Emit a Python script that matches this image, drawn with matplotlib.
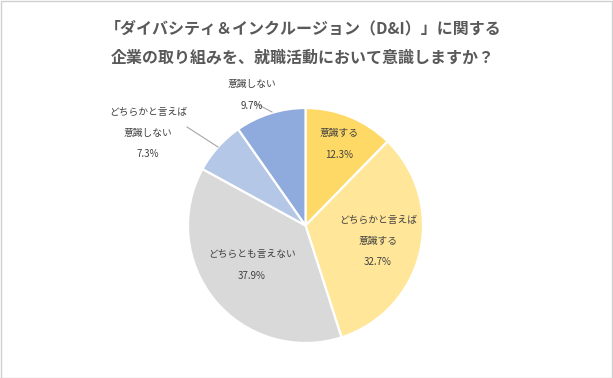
import matplotlib
matplotlib.use('Agg')
import matplotlib.pyplot as plt
from matplotlib.patches import Rectangle

plt.rcParams['font.family'] = ['Noto Sans CJK JP', 'DejaVu Sans']

# データ
labels = ['意識する', 'どちらかと言えば\n意識する', 'どちらとも言えない',
          'どちらかと言えば\n意識しない', '意識しない']
values = [12.3, 32.7, 37.9, 7.3, 9.7]
colors = ['#FFD966', '#FFE699', '#D9D9D9', '#B4C7E7', '#8FAADC']
title = '「ダイバシティ＆インクルージョン（D&I）」に関する\n企業の取り組みを、就職活動において意識しますか？'

W, H = 613, 378
fig = plt.figure(figsize=(W / 100, H / 100), dpi=100)

# 外枠
fig.patches.append(Rectangle((0.5 / W, 0.5 / H), 1 - 1.5 / W, 1 - 1.5 / H,
                             transform=fig.transFigure, fill=False,
                             edgecolor='#D0D0D0', linewidth=1))

fig.text(303 / W, 1 - 43 / H, title, ha='center', va='center', fontsize=11.5,
         fontweight='bold', color='#595959', linespacing=1.95)

# 円グラフ (中心 305.5, 225.5 / 半径 117.5 px)
cx, cy, r = 305.5, 225.5, 117.5
ax = fig.add_axes([(cx - r) / W, (H - cy - r) / H, 2 * r / W, 2 * r / H])
ax.pie(values, colors=colors, startangle=90, counterclock=False, radius=1,
       wedgeprops=dict(edgecolor='white', linewidth=1.6))
ax.set_xlim(-1, 1)
ax.set_ylim(-1, 1)
ax.set_aspect('equal')
ax.axis('off')


def px(x, y):
    return (x - cx) / r, (cy - y) / r


# ラベル位置（ピクセル）
label_pos = [(339, 144), (378, 241), (252, 265), (148, 133), (252, 95)]
for lab, val, (lx, ly) in zip(labels, values, label_pos):
    ax.text(*px(lx, ly), f'{lab}\n{val:.1f}%', ha='center', va='center',
            fontsize=7, color='#404040', linespacing=2.4, clip_on=False)

# 引き出し線
leaders = [((255, 103), (272, 112)), ((187, 127), (218, 147))]
for (x0, y0), (x1, y1) in leaders:
    p0, p1 = px(x0, y0), px(x1, y1)
    ax.plot([p0[0], p1[0]], [p0[1], p1[1]], color='#A6A6A6', linewidth=0.8,
            clip_on=False)

fig.savefig('out.png', dpi=100)
